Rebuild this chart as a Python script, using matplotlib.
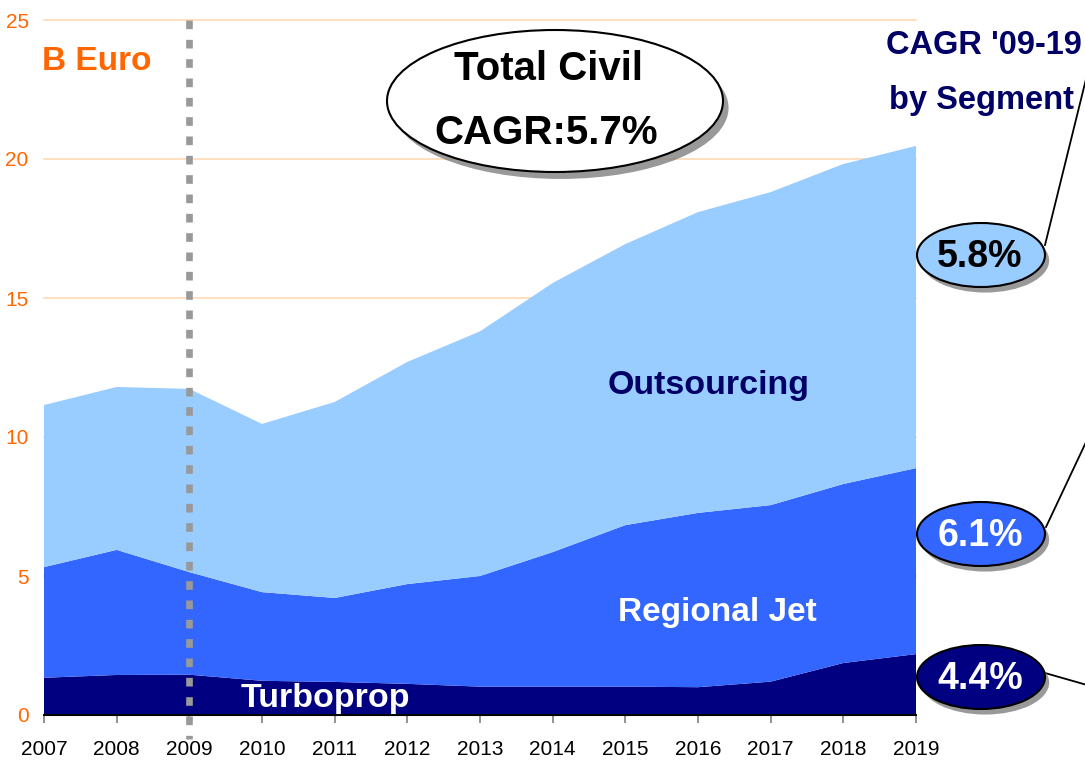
import matplotlib
matplotlib.use("Agg")
from matplotlib import pyplot as plt
from matplotlib.patches import Ellipse
from matplotlib.lines import Line2D
import matplotlib.patheffects as pe

# 데이터 (그림에서 읽은 값, 단위: B Euro)
years = [2007, 2008, 2009, 2010, 2011, 2012, 2013, 2014, 2015, 2016, 2017, 2018, 2019]
turboprop = [1.34, 1.44, 1.45, 1.23, 1.19, 1.12, 1.02, 1.02, 1.02, 1.00, 1.20, 1.87, 2.19]
regional_jet = [3.98, 4.50, 3.69, 3.19, 3.02, 3.59, 3.98, 4.84, 5.81, 6.27, 6.35, 6.44, 6.69]
outsourcing = [5.83, 5.86, 6.59, 6.05, 7.05, 7.99, 8.80, 9.68, 10.11, 10.82, 11.26, 11.51, 11.59]

cagr_labels = ["5.8%", "6.1%", "4.4%"]
y_ticks = [0, 5, 10, 15, 20, 25]

c_out = "#99CCFF"
c_reg = "#3366FF"
c_turbo = "#000080"
navy = "#000066"
orange = "#FF6600"

plt.rcParams['font.family'] = ["Liberation Sans", "DejaVu Sans"]

W, H = 1085, 765
fig = plt.figure(figsize=(W / 100, H / 100), dpi=100)
ax = fig.add_axes([44 / W, 1 - 715 / H, (916 - 44) / W, (715 - 20) / H])


def fx(px):
    return px / W


def fy(py):
    return 1 - py / H


ax.stackplot(years, turboprop, regional_jet, outsourcing,
             colors=[c_turbo, c_reg, c_out], linewidth=0, zorder=2)

ax.set_xlim(2007, 2019)
ax.set_ylim(0, 25)
ax.set_xticks(years)
ax.set_xticklabels([str(y) for y in years], fontsize=15, color="black")
ax.set_yticks(y_ticks)
ax.set_yticklabels([str(v) for v in y_ticks], fontsize=15, color=orange)
ax.tick_params(axis="y", length=0, pad=11)
ax.tick_params(axis="x", direction="out", length=6, width=1.2, color="#808080", pad=12)

for v in y_ticks[1:]:
    ax.axhline(v, color="#FFD9B3", lw=1.2, zorder=1, clip_on=False)

for s in ["top", "right", "left"]:
    ax.spines[s].set_visible(False)
ax.spines["bottom"].set_color("black")
ax.spines["bottom"].set_linewidth(1.5)
ax.spines["bottom"].set_zorder(4)

# 2009 점선
ax.plot([2009, 2009], [25, -0.85], color="#999999", lw=4.8,
        linestyle=(0, (1.3, 1.6)), solid_capstyle="butt", dash_capstyle="butt",
        clip_on=False, zorder=5)

# 라벨
ax.text(2016.14, 11.87, "Outsourcing", color=navy, fontsize=24.5, fontweight="bold",
        ha="center", va="center", zorder=6)
ax.text(2016.26, 3.7, "Regional Jet", color="white", fontsize=24, fontweight="bold",
        ha="center", va="center", zorder=6)
ax.text(2010.87, 0.6, "Turboprop", color="white", fontsize=24.5, fontweight="bold",
        ha="center", va="center", zorder=6)

fig.text(fx(42), fy(62), "B Euro", color=orange, fontsize=24, fontweight="bold",
         ha="left", va="center")

# 전체 CAGR 타원
shadow = [pe.SimplePatchShadow(offset=(4, -5), shadow_rgbFace="#808080", alpha=0.8), pe.Normal()]
big = Ellipse((fx(555), fy(101)), 336 / W, 142 / H, transform=fig.transFigure,
              facecolor="white", edgecolor="black", lw=1.5, zorder=10)
big.set_path_effects(shadow)
fig.add_artist(big)
fig.text(fx(548), fy(69), "Total Civil", fontsize=29, fontweight="bold",
         ha="center", va="center", zorder=11)
fig.text(fx(546), fy(133), "CAGR:5.7%", fontsize=29, fontweight="bold",
         ha="center", va="center", zorder=11)

fig.text(fx(886), fy(45), "CAGR '09-19", color=navy, fontsize=23.5, fontweight="bold",
         ha="left", va="center")
fig.text(fx(889), fy(100), "by Segment", color=navy, fontsize=23.5, fontweight="bold",
         ha="left", va="center")

# 세그먼트별 CAGR 타원
centers = [255, 534, 677]
fills = [c_out, c_reg, c_turbo]
tcols = ["black", "white", "white"]
leaders = [((1045, 245), (1087, 75)), ((1046, 527), (1087, 440)), ((1045, 673), (1087, 685))]
for lab, cy, fc, tc, ld in zip(cagr_labels, centers, fills, tcols, leaders):
    e = Ellipse((fx(981), fy(cy)), 128 / W, 64 / H, transform=fig.transFigure,
                facecolor=fc, edgecolor="black", lw=1.5, zorder=10)
    e.set_path_effects([pe.SimplePatchShadow(offset=(3, -4), shadow_rgbFace="#808080", alpha=0.8),
                        pe.Normal()])
    fig.add_artist(e)
    fig.text(fx(980), fy(cy + 2), lab, color=tc, fontsize=27, fontweight="bold",
             ha="center", va="center", zorder=11)
    (x0, y0), (x1, y1) = ld
    fig.add_artist(Line2D([fx(x0), fx(x1)], [fy(y0), fy(y1)], transform=fig.transFigure,
                          color="black", lw=1.3, zorder=9))

fig.savefig("out.png", dpi=100)
